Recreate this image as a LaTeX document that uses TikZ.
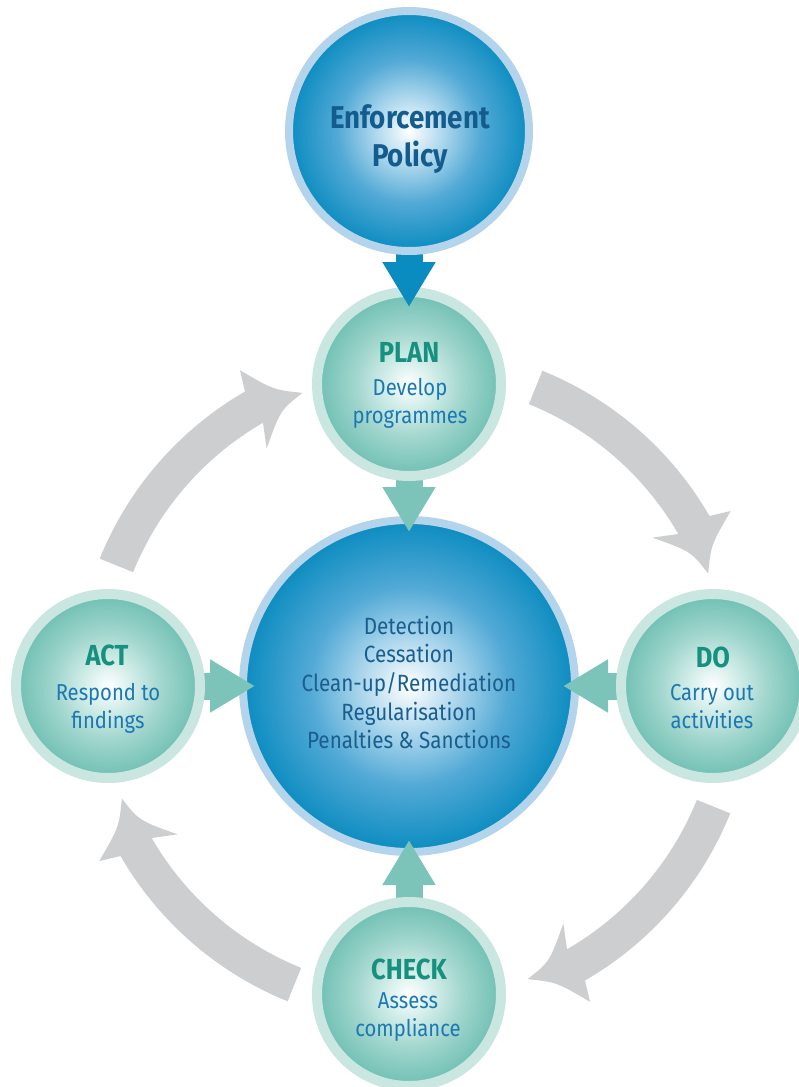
\documentclass[tikz,border=0pt]{standalone}
\usepackage{fontspec}
\setmainfont{Fira Sans}[FakeStretch=0.88]
\usetikzlibrary{arrows.meta}

% palette
\definecolor{polblue}{HTML}{0B8CC0}
\definecolor{polring}{HTML}{B3D4EA}
\definecolor{polmidA}{HTML}{A9D5EC}
\definecolor{polmidB}{HTML}{52A9D6}
\definecolor{tealedge}{HTML}{6FBFB3}
\definecolor{tealring}{HTML}{C9E6E1}
\definecolor{tealmidA}{HTML}{CDEBE6}
\definecolor{tealmidB}{HTML}{9FD5CC}
\definecolor{tealarrow}{HTML}{7CC4BA}
\definecolor{cyclegray}{HTML}{CDCED0}
\definecolor{headteal}{HTML}{17917F}
\definecolor{subblue}{HTML}{1B78B3}
\definecolor{poltext}{HTML}{155C8E}
\definecolor{coretext}{HTML}{1A5E8E}

\pgfdeclareradialshading{blueglow}{\pgfpoint{0bp}{0bp}}{%
  color(0bp)=(white); color(7.5bp)=(polmidA); color(15bp)=(polmidB);
  color(25bp)=(polblue); color(50bp)=(polblue)}
\pgfdeclareradialshading{tealglow}{\pgfpoint{0bp}{0bp}}{%
  color(0bp)=(white); color(7.5bp)=(tealmidA); color(15bp)=(tealmidB);
  color(25bp)=(tealedge); color(50bp)=(tealedge)}

\pgfdeclarelayer{base}
\pgfdeclarelayer{links}
\pgfdeclarelayer{over}
\pgfdeclarelayer{top}
\pgfsetlayers{base,links,main,over,top}

\begin{document}
\begin{tikzpicture}[x=1pt,y=1pt,
  bluecirc/.style={circle, draw=polring, line width=8pt, shade, shading=blueglow, inner sep=0pt},
  tealcirc/.style={circle, draw=tealring, line width=10pt, shade, shading=tealglow, inner sep=0pt},
  bluelink/.style={draw=polblue, line width=27pt, -{Triangle[length=45pt,width=50pt]}},
  teallink/.style={draw=tealarrow, line width=27pt, -{Triangle[length=45pt,width=50pt]}, shorten >=-16pt},
  headtxt/.style={anchor=base, inner sep=0pt, text=headteal, font=\bfseries\fontsize{29}{30}\selectfont},
  subtxt/.style={anchor=base, inner sep=0pt, text=subblue, font=\fontsize{23}{28}\selectfont},
  coretxt/.style={anchor=base, inner sep=0pt, text=coretext, font=\fontsize{23.5}{28}\selectfont},
  poltxt/.style={anchor=base, inner sep=0pt, text=poltext, font=\bfseries\fontsize{31.5}{38}\selectfont},
]
\useasboundingbox (0,0) rectangle (798,-1087);

\begin{pgfonlayer}{base}
  \fill[white] (0,0) rectangle (798,-1087);
  % the four curved cycle arrows around the hub
  \coordinate (hub) at (415,-686);
  \begin{scope}[shift={(hub)}]
    \foreach \t in {158,68,-22,-112} {
      \pgfmathsetmacro\p{\t-47}
      \pgfmathsetmacro\pa{\p+9}
      \pgfmathsetmacro\pb{\p+8}
      \pgfmathsetmacro\pc{\p+4.5}
      \pgfmathsetmacro\pd{\p+5}
      \pgfmathsetmacro\pe{\p+11}
      \fill[cyclegray] (\t:340) arc[start angle=\t, end angle=\pa, radius=340pt]
        -- (\pb:361) .. controls (\pc:328) .. (\p:314)
        .. controls (\pd:307) .. (\pe:280)
        -- (\pa:304) arc[start angle=\pa, end angle=\t, radius=304pt] -- cycle;
    }
  \end{scope}
  \node[bluecirc, minimum size=332pt] (core) at (409,-686) {};
\end{pgfonlayer}

% phase circles
\node[tealcirc, minimum size=184pt] (plan)  at (409,-384) {};
\node[tealcirc, minimum size=184pt] (act)   at (108,-686) {};
\node[tealcirc, minimum size=184pt] (do)    at (713,-686) {};
\node[tealcirc, minimum size=184pt] (check) at (409,-994) {};

\begin{pgfonlayer}{links}
  \draw[teallink] (plan.center)  -- (core.north);
  \draw[teallink] (act.center)   -- (core.west);
  \draw[teallink] (do.center)    -- (core.east);
  \draw[teallink] (check.center) -- (core.south);
\end{pgfonlayer}

\begin{pgfonlayer}{top}
  \node[bluecirc, minimum size=240pt] (policy) at (409,-131) {};
\end{pgfonlayer}

\begin{pgfonlayer}{over}
  \draw[bluelink, shorten >=-20pt] (policy.center) -- (plan.north);
\end{pgfonlayer}

\begin{pgfonlayer}{top}
  \node[poltxt] (pol1) at (410,-128) {Enforcement};
  \node[poltxt] (pol2) at (410,-166.5) {Policy};

  \node[headtxt] (planh) at (409,-362) {PLAN};
  \node[subtxt]  (plan1) at (410,-395) {Develop};
  \node[subtxt]  (plan2) at (410,-423) {programmes};

  \node[headtxt] (acth) at (107,-665) {ACT};
  \node[subtxt]  (act1) at (108,-700.5) {Respond to};
  \node[subtxt]  (act2) at (108,-728) {findings};

  \node[headtxt] (doh) at (713,-667) {DO};
  \node[subtxt]  (do1) at (712,-700) {Carry out};
  \node[subtxt]  (do2) at (712,-728) {activities};

  \node[headtxt] (checkh) at (409,-979) {CHECK};
  \node[subtxt]  (check1) at (408,-1008) {Assess};
  \node[subtxt]  (check2) at (408,-1036) {compliance};

  \node[coretxt] (c1) at (409,-634) {Detection};
  \node[coretxt] (c2) at (409,-662.7) {Cessation};
  \node[coretxt] (c3) at (409,-691.4) {Clean-up/Remediation};
  \node[coretxt] (c4) at (409,-720.1) {Regularisation};
  \node[coretxt] (c5) at (409,-748.8) {Penalties \& Sanctions};
\end{pgfonlayer}
\end{tikzpicture}
\end{document}
